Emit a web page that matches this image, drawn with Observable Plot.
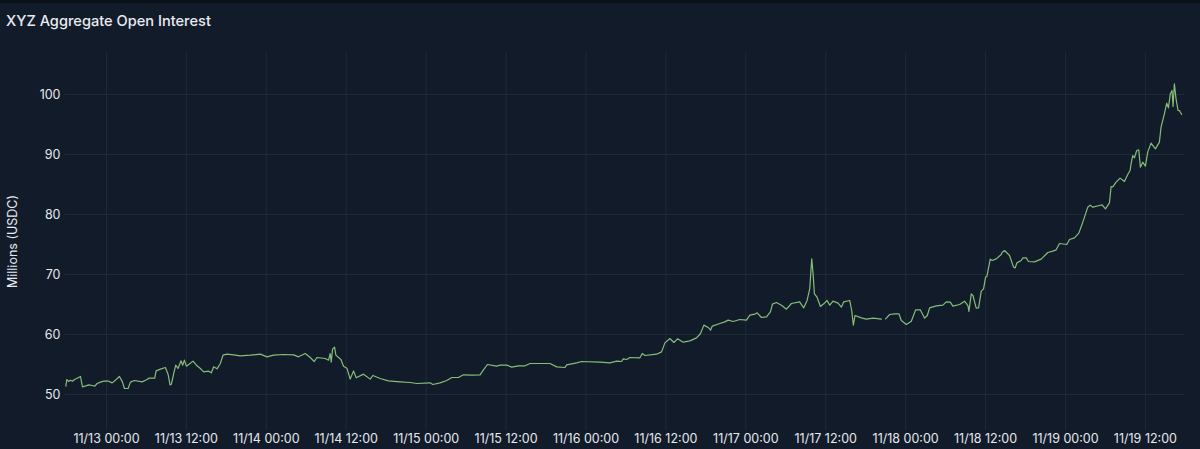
<!DOCTYPE html>
<html><head><meta charset="utf-8">
<script src="https://cdn.jsdelivr.net/npm/d3@7"></script>
<script src="https://cdn.jsdelivr.net/npm/@observablehq/plot@0.6"></script>
<style>
html,body{margin:0;padding:0;background:#121b2a;width:1200px;height:449px;overflow:hidden}
#title{box-sizing:border-box;height:44px;padding:9px 0 0 6px;border-top:3px solid #0b1119;font:500 14.6px Inter,sans-serif;color:#e8ebf0;line-height:18px}
svg{display:block}
</style></head><body>
<div id="title">XYZ Aggregate Open Interest</div>
<div id="chart"></div>
<script>
const hoursSinceNov13 = [-6.1,-5.95,-5.7,-5.4,-5.1,-4.8,-4.4,-3.9,-3.6,-3.1,-2.65,-2.15,-1.75,-1.4,-0.9,-0.4,0.35,0.85,1.35,1.95,2.4,2.7,3.25,3.6,4.2,5.35,6.1,6.35,7.25,7.45,8.1,8.85,9.25,9.55,9.75,10.1,10.4,10.75,11.2,11.45,11.7,12,12.35,13,13.6,14.1,14.6,15.35,15.75,16.1,16.6,17.1,17.5,18.1,19.1,20.1,21.6,23.1,24.1,25.1,26.6,28.1,28.85,29.85,30.6,31.2,31.6,32.85,33.35,33.6,33.75,33.95,34.25,34.45,35.2,35.6,36.1,36.6,37.1,37.5,38.6,39.6,40,41.1,42.35,44.1,45.6,46.6,48.6,49,50.1,51.1,51.85,52.85,53.6,54.85,56.1,56.5,57.2,58.6,59.1,60.1,60.85,61.85,62.85,63.6,65.6,66.6,67.6,68.85,69.1,70.6,71.35,74.1,75.6,76.6,77.35,77.6,78.1,78.6,80.1,80.45,80.85,82.6,83.35,83.85,84.6,85.2,85.75,86.6,87.6,88.6,89.2,89.7,90.35,90.7,90.95,92.1,92.85,93.35,94.1,95.1,96.1,96.6,97.35,97.7,98.35,99.1,99.7,100,100.6,101.35,102.1,102.85,104.1,104.2,104.7,105.2,105.6,105.9,106.1,106.3,106.7,107.2,107.7,108.2,108.6,109.1,109.85,110.35,110.7,111.6,111.9,112.15,112.4,113.35,114.1,115.1,116.35,116.7,117,117.6,118.35,119,119.35,120.1,120.85,121.5,122.2,122.85,123.25,123.6,124.6,125.6,126.1,126.7,127.1,128.1,128.85,129.35,129.5,129.85,130.1,130.6,130.95,131.35,131.7,132,132.2,132.7,133,133.6,134.35,134.5,134.85,135.6,136.2,136.45,136.7,137.35,137.6,138.1,138.45,139.35,140.35,141.35,142.1,142.6,143.1,144.2,144.6,145.35,146,146.6,147.35,147.7,148.1,149.1,149.5,150,150.6,150.85,151.1,151.6,152.2,152.85,153.35,153.7,153.85,154.1,154.35,154.7,155,155.25,155.6,156,156.35,156.85,157.5,158.1,158.35,158.85,159.2,159.45,159.75,160,160.15,160.35,160.6,160.9,161.1,161.45];
const openInterest = [51.39,52.5,52.17,52.39,52.22,52.5,52.72,53,51.28,51.44,51.61,51.5,51.39,51.83,52.06,52.22,52.22,51.94,52.39,53,52.11,51,51,52.06,52.33,52.11,52.5,52.72,52.72,53.94,54.22,54.5,53.39,51.61,51.72,53.5,54.89,54.33,55.61,54.89,55.72,54.72,55,55.56,54.78,54.33,53.78,53.89,53.61,54.61,54.28,55.17,56.56,56.72,56.61,56.44,56.56,56.72,56.28,56.56,56.67,56.61,56.28,56.83,56.17,55.5,56.17,56,55.72,56.83,55.39,57.56,57.89,56.56,55.83,54.72,54.39,52.56,53.94,52.78,53.39,52.56,53.17,52.67,52.28,52.11,52,51.83,51.94,51.67,51.94,52.33,52.83,52.83,53.28,53.22,53.28,53.94,55,54.72,54.89,54.89,54.56,54.78,54.78,55.17,55.17,55.17,54.61,54.5,54.94,55.28,55.5,55.39,55.28,55.56,55.5,55.94,55.83,56.17,56.11,56.83,56.5,56.72,57.11,58.61,59.33,58.67,59.28,58.72,58.94,59.44,60.17,61.56,61.17,60.72,61.39,61.83,62.11,62.39,62.17,62.5,62.39,63.22,63.39,63.61,62.83,62.94,63.78,65.06,65.33,64.89,64.22,65.17,65.44,65.22,64.44,65.67,67.61,72.61,70.11,66.78,66.22,64.67,65.11,65.67,64.89,65.56,65.22,64.56,65.44,65.67,64,61.56,63.17,62.78,62.56,62.72,62.56,NaN,62.61,63.33,63.44,63.44,62.33,61.67,62.22,64.11,64.11,62.72,63.17,64.44,64.78,64.89,65.44,65.39,64.72,65,65.56,64.83,63.83,66.78,66.5,64.39,64.44,67.22,67.61,69.56,69.67,72.56,72.33,72.61,73.33,73.72,74,73.17,71.22,71.11,71.94,72.33,72.78,72.78,72.17,72.11,72.56,73.67,73.89,74.11,75.17,75,75.83,76.11,76.89,78.72,81.22,81.56,81.22,81.5,81.61,80.94,81.94,84.67,84.61,85.39,86.06,85.5,86.67,87.33,88.44,89.83,89.44,90.67,90.78,87.89,88.72,88.06,90.39,91.89,90.94,92.06,94.56,96.78,98.56,97.78,100.11,100.67,98,101.78,99.28,97.33,97.33,96.67];
const yTicks = [50,60,70,80,90,100];
const xTickLabels = ["11/13 00:00","11/13 12:00","11/14 00:00","11/14 12:00","11/15 00:00","11/15 12:00","11/16 00:00","11/16 12:00","11/17 00:00","11/17 12:00","11/18 00:00","11/18 12:00","11/19 00:00","11/19 12:00"];

const START = Date.UTC(2025,10,13);
const toDate = h => new Date(START + h*3600e3);
const parse = d3.utcParse("%Y/%m/%d %H:%M");
const fmt = d3.utcFormat("%m/%d %H:%M");
const xTicks = xTickLabels.map(s => parse("2025/" + s));
const rows = hoursSinceNov13.map((h,i) => ({t: toDate(h), v: openInterest[i]}));
const grid = "#1f2a39";

const plot = Plot.plot({
  width: 1200, height: 405,
  marginTop: 8, marginBottom: 19, marginLeft: 65, marginRight: 16,
  style: {background: "#121b2a", color: "#e6e9ee", fontFamily: "Inter, sans-serif", fontSize: "12.5px"},
  x: {type: "utc", domain: [toDate(-6.15), toDate(161.87)]},
  y: {domain: [44, 107]},
  marks: [
    Plot.gridX(xTicks, {stroke: grid, strokeOpacity: 1, strokeWidth: 1}),
    Plot.gridY(yTicks, {stroke: grid, strokeOpacity: 1, strokeWidth: 1}),
    Plot.axisX(xTicks, {tickSize: 0, tickPadding: 4, tickFormat: fmt, label: null, fontVariant: "normal"}),
    Plot.axisY(yTicks, {tickSize: 0, tickPadding: 5, label: "Millions (USDC)", labelAnchor: "center", labelArrow: "none", labelOffset: 57, fontVariant: "normal"}),
    Plot.line(rows, {x: "t", y: "v", stroke: "#86bd78", strokeWidth: 1.2, curve: "linear"})
  ]
});
document.getElementById("chart").appendChild(plot);
</script>
</body></html>
